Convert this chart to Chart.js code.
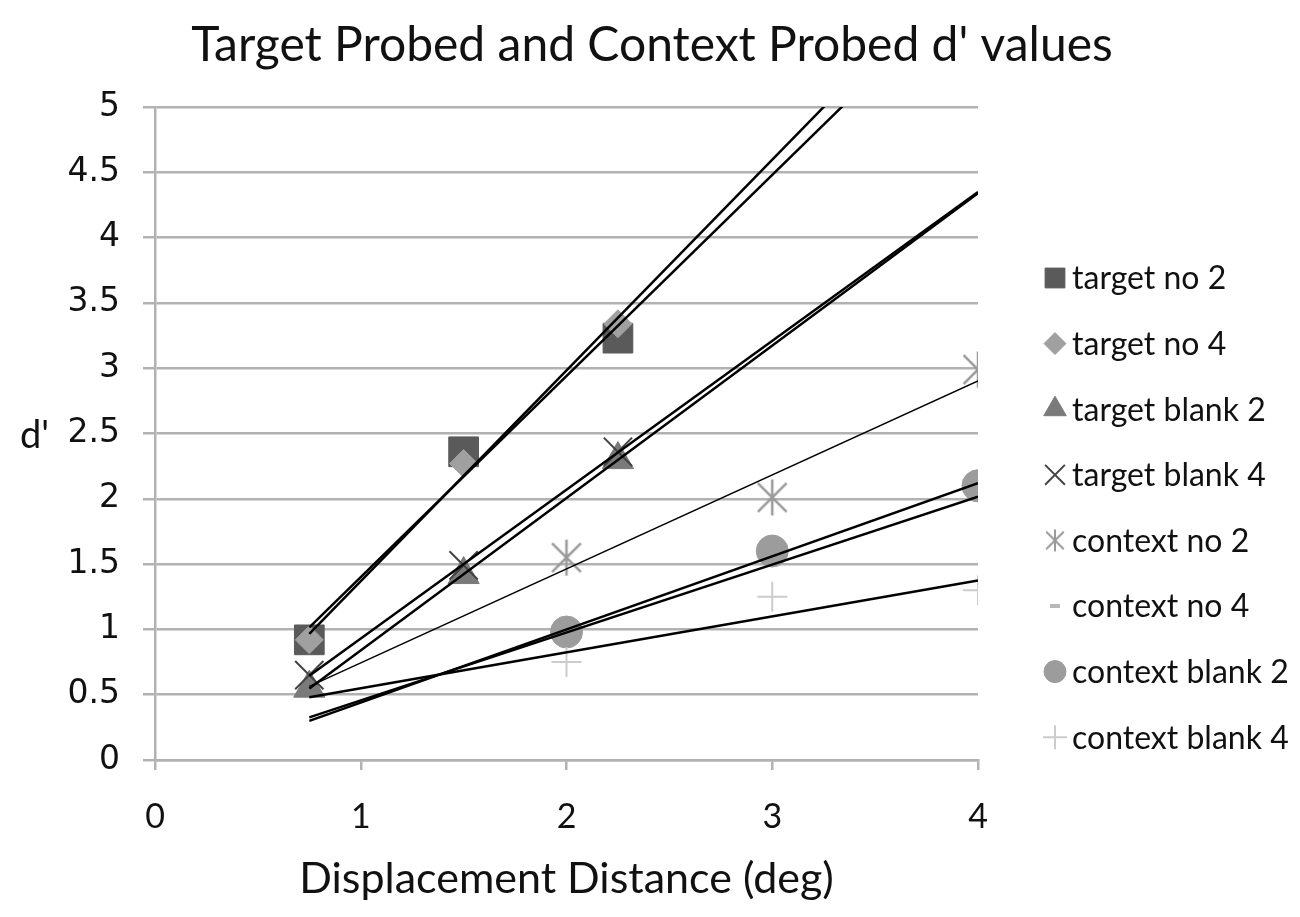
<!DOCTYPE html>
<html>
<head>
<meta charset="utf-8">
<script src="https://cdn.jsdelivr.net/npm/chart.js@4/dist/chart.umd.min.js"></script>
<style>
  html, body { margin: 0; padding: 0; background: #ffffff; }
  #wrap { width: 1300px; height: 917px; }
</style>
</head>
<body>
<div id="wrap"><canvas id="c" width="1300" height="917"></canvas></div>
<script>
// ---- data ----
const chartTitle = "Target Probed and Context Probed d' values";
const xAxisTitle = "Displacement Distance (deg)";
const yAxisTitle = "d'";
const seriesNames = ["target no 2", "target no 4", "target blank 2", "target blank 4",
                     "context no 2", "context no 4", "context blank 2", "context blank 4"];
const xTarget = [0.75, 1.5, 2.25];
const xContext = [2, 3, 4];
const targetNo2 = [0.92, 2.36, 3.23];
const targetNo4 = [0.92, 2.27, 3.34];
const targetBlank2 = [0.55, 1.42, 2.30];
const targetBlank4 = [0.65, 1.49, 2.36];
const contextNo2 = [1.55, 2.01, 2.99];
const contextNo4 = [0.95, 1.55, 1.99];
const contextBlank2 = [0.98, 1.60, 2.10];
const contextBlank4 = [0.75, 1.25, 1.30];
const trendRange = [0.75, 4];
const yTicks = [0, 0.5, 1, 1.5, 2, 2.5, 3, 3.5, 4, 4.5, 5];
const xTicks = [0, 1, 2, 3, 4];

// ---- styles (kept apart from the data) ----
const seriesX = [xTarget, xTarget, xTarget, xTarget, xContext, xContext, xContext, xContext];
const seriesY = [targetNo2, targetNo4, targetBlank2, targetBlank4, contextNo2, contextNo4, contextBlank2, contextBlank4];

// asterisk marker (X with a vertical bar), as in the reference
function makeAsterisk(size, color, lw) {
  const c = document.createElement('canvas');
  c.width = size; c.height = size;
  const g = c.getContext('2d');
  g.strokeStyle = color; g.lineWidth = lw; g.lineCap = 'butt';
  const m = size / 2, r = size / 2 - 1, d = r * 0.8;
  g.beginPath();
  g.moveTo(m - d, m - d); g.lineTo(m + d, m + d);
  g.moveTo(m + d, m - d); g.lineTo(m - d, m + d);
  g.moveTo(m, m - r); g.lineTo(m, m + r);
  g.stroke();
  return c;
}
const asteriskBig = makeAsterisk(38, '#9a9a9a', 2.5);
const asteriskSmall = makeAsterisk(24, '#9a9a9a', 2);

const styles = [
  { pointStyle: 'rect',     radius: 21, fill: '#5a5a5a', stroke: '#5a5a5a', bw: 1,   lw: 2.5, legR: 14 },
  { pointStyle: 'rectRot',  radius: 14, fill: '#a0a0a0', stroke: '#a0a0a0', bw: 1,   lw: 2.5, legR: 11 },
  { pointStyle: 'triangle', radius: 18, fill: '#7a7a7a', stroke: '#7a7a7a', bw: 1,   lw: 2.5, legR: 13 },
  { pointStyle: 'crossRot', radius: 20, fill: '#444444', stroke: '#444444', bw: 2,   lw: 2.5, legR: 14 },
  { pointStyle: asteriskBig, legendImg: asteriskSmall, radius: 19, fill: '#9a9a9a', stroke: '#9a9a9a', bw: 2.5, lw: 1.5, legR: 11 },
  { pointStyle: 'line',     radius: 5,  fill: '#b8b8b8', stroke: '#b8b8b8', bw: 4,   lw: 2.5, legR: 5 },
  { pointStyle: 'circle',   radius: 16, fill: '#9c9c9c', stroke: '#9c9c9c', bw: 1,   lw: 2.5, legR: 11 },
  { pointStyle: 'cross',    radius: 15, fill: '#cccccc', stroke: '#cccccc', bw: 2,   lw: 2.5, legR: 12 }
];

function regressionLine(xs, ys, range) {
  const n = xs.length;
  const mx = xs.reduce((a, b) => a + b, 0) / n;
  const my = ys.reduce((a, b) => a + b, 0) / n;
  let sxy = 0, sxx = 0;
  for (let i = 0; i < n; i++) { sxy += (xs[i] - mx) * (ys[i] - my); sxx += (xs[i] - mx) ** 2; }
  const m = sxy / sxx, b = my - m * mx;
  return range.map(x => ({ x: x, y: m * x + b }));
}

const datasets = [];
seriesNames.forEach((name, i) => {
  const st = styles[i];
  datasets.push({
    type: 'line',
    label: name + ' trend',
    data: regressionLine(seriesX[i], seriesY[i], trendRange),
    borderColor: '#000000',
    borderWidth: st.lw,
    pointRadius: 0,
    pointHoverRadius: 0,
    fill: false,
    tension: 0,
    order: 0
  });
});
seriesNames.forEach((name, i) => {
  const st = styles[i];
  datasets.push({
    type: 'scatter',
    label: name,
    data: seriesX[i].map((x, k) => ({ x: x, y: seriesY[i][k] })),
    pointStyle: st.pointStyle,
    pointRadius: st.radius,
    pointHoverRadius: st.radius,
    backgroundColor: st.fill,
    borderColor: st.stroke,
    pointBorderWidth: st.bw,
    order: 20 - i
  });
});

const gridColor = '#b2b2b2';

const extrasPlugin = {
  id: 'extras',
  afterDraw(chart) {
    const ctx = chart.ctx;
    ctx.save();
    // chart title
    ctx.fillStyle = '#111111';
    ctx.font = '48px Lato';
    ctx.textAlign = 'center';
    ctx.textBaseline = 'middle';
    ctx.fillText(chartTitle, 652, 46);
    // horizontal y-axis title
    ctx.font = '38px Lato';
    ctx.textAlign = 'left';
    ctx.fillText(yAxisTitle, 20, chart.scales.y.getPixelForValue(2.5) + 2);
    // legend
    const lx = 1055, ly0 = 278, step = 65.6;
    seriesNames.forEach((name, i) => {
      const st = styles[i];
      const y = ly0 + i * step;
      ctx.fillStyle = st.fill;
      ctx.strokeStyle = st.stroke;
      ctx.lineWidth = st.bw;
      if (st.legendImg) {
        ctx.drawImage(st.legendImg, lx - st.legendImg.width / 2, y - st.legendImg.height / 2);
      } else {
        Chart.helpers.drawPoint(ctx, { pointStyle: st.pointStyle, radius: st.legR, rotation: 0, borderWidth: st.bw }, lx, y);
      }
      ctx.fillStyle = '#111111';
      ctx.font = '32px Lato';
      ctx.textAlign = 'left';
      ctx.textBaseline = 'middle';
      ctx.fillText(name, 1072, y + 1);
    });
    ctx.restore();
  }
};

new Chart(document.getElementById('c'), {
  type: 'scatter',
  data: { datasets: datasets },
  options: {
    responsive: false,
    animation: false,
    devicePixelRatio: 1,
    layout: { padding: { left: 0, right: 322, top: 107, bottom: 0 } },
    plugins: {
      legend: { display: false },
      tooltip: { enabled: false },
      title: { display: false }
    },
    scales: {
      x: {
        type: 'linear',
        min: 0, max: 4,
        afterBuildTicks: (s) => { s.ticks = xTicks.map(v => ({ value: v })); },
        afterFit: (s) => { s.height = 157; },
        grid: { display: true, drawOnChartArea: false, drawTicks: true, tickLength: 10, color: gridColor, lineWidth: 2.5 },
        border: { display: true, color: gridColor, width: 2.5 },
        ticks: { color: '#111111', font: { family: 'Lato', size: 34 }, padding: 27, callback: (v) => String(v) },
        title: { display: true, text: xAxisTitle, color: '#111111', font: { family: 'Lato', size: 43 }, padding: { top: 0, bottom: 12 } }
      },
      y: {
        type: 'linear',
        min: 0, max: 5,
        afterBuildTicks: (s) => { s.ticks = yTicks.map(v => ({ value: v })); },
        afterFit: (s) => { s.width = 155; },
        grid: { display: true, drawOnChartArea: true, drawTicks: true, tickLength: 12, color: gridColor, lineWidth: 2.5 },
        border: { display: true, color: gridColor, width: 2.5 },
        ticks: { color: '#111111', font: { family: 'DejaVu Sans', size: 33 }, padding: 23, callback: (v) => String(v) }
      }
    }
  },
  plugins: [extrasPlugin]
});
</script>
</body>
</html>
